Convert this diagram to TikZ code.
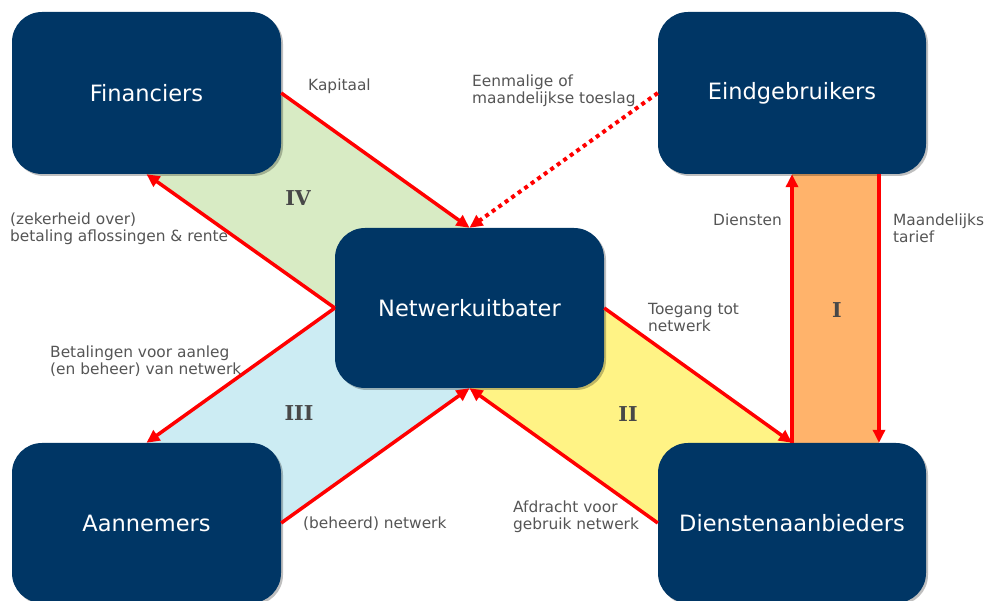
\documentclass[tikz,border=0pt]{standalone}
\usepackage{fontspec}
\setmainfont{DejaVu Sans}
\newfontfamily\numfont{DejaVu Serif}
\usetikzlibrary{arrows.meta,shadows,backgrounds,calc}
\definecolor{boxblue}{RGB}{0,54,101}
\definecolor{labgray}{RGB}{85,85,85}
\definecolor{numgray}{RGB}{72,72,72}
\definecolor{fgreen}{RGB}{216,235,196}
\definecolor{fblue}{RGB}{204,236,243}
\definecolor{fyellow}{RGB}{255,243,133}
\definecolor{forange}{RGB}{255,179,107}
\newcommand{\labtxt}[1]{\begin{tabular}[t]{@{}l@{}}#1\end{tabular}}
\tikzset{
  actor/.style={fill=boxblue, rounded corners=30pt, text=white,
    font=\fontsize{22.5}{27}\selectfont, inner sep=0pt,
    drop shadow={shadow xshift=2pt, shadow yshift=-2pt, fill=black, opacity=0.25}},
  flowlabel/.style={anchor=base west, inner sep=0pt, text=labgray,
    font=\fontsize{15.4}{16.5}\selectfont},
  numeral/.style={inner sep=0pt, text=numgray, font=\numfont\bfseries\fontsize{20.5}{24}\selectfont},
  flow/.style={draw=red, line width=3.5pt, -{Triangle[length=13pt,width=12pt]}},
  dotflow/.style={draw=red, line width=4pt, dash pattern=on 4pt off 4pt,
    -{Triangle[length=13pt,width=12pt]}}
}
\begin{document}
\begin{tikzpicture}[x=1pt,y=-1pt]
\useasboundingbox (0,0) rectangle (989,601);
\clip (0,0) rectangle (989,601);
% actors
\node[actor, minimum width=269pt, minimum height=162pt] (fin) at (146.5,93) {Financiers};
\node[actor, minimum width=268pt, minimum height=162pt] (eind) at (792,93) {Eindgebruikers};
\node[actor, minimum width=269pt, minimum height=160pt] (net) at (469.5,308) {Netwerkuitbater};
\node[actor, minimum width=269pt, minimum height=160pt] (aan) at (146.5,523) {Aannemers};
\node[actor, minimum width=268pt, minimum height=160pt] (dien) at (792,523) {Dienstenaanbieders};
\coordinate (mtop) at ($(eind.south)+(87,0)$);
\coordinate (mbot) at ($(dien.north)+(87,0)$);
% coloured areas
\begin{scope}[on background layer]
  \fill[fgreen] (fin.east) -- (net.north) -- (net.west) -- (fin.south) -- cycle;
  \fill[fblue] (net.west) -- (net.south) -- (aan.east) -- (aan.north) -- cycle;
  \fill[fyellow] (net.east) -- (dien.north) -- (dien.west) -- (net.south) -- cycle;
  \fill[forange] (eind.south) rectangle (mbot);
\end{scope}
% numerals
\node[numeral] (nIV) at (298,198) {IV};
\node[numeral] (nIII) at (299,413) {III};
\node[numeral] (nII) at (628,414) {II};
\node[numeral] (nI) at (837,310) {I};
% flows
\draw[flow] (fin.east) -- (net.north);
\draw[dotflow] (eind.west) -- (net.north);
\draw[flow] (net.west) -- (fin.south);
\draw[flow] (net.west) -- (aan.north);
\draw[flow] (aan.east) -- (net.south);
\draw[flow] (dien.west) -- (net.south);
\draw[flow] (net.east) -- (dien.north);
\draw[flow] (dien.north) -- (eind.south);
\draw[flow] (mtop) -- (mbot);
% labels
\node[flowlabel] (lkap) at (308,91) {\labtxt{Kapitaal}};
\node[flowlabel] (leen) at (472,87) {\labtxt{Eenmalige of\\maandelijkse toeslag}};
\node[flowlabel] (lzek) at (10,225) {\labtxt{(zekerheid over)\\betaling aflossingen \& rente}};
\node[flowlabel] (lbet) at (50,358) {\labtxt{Betalingen voor aanleg\\(en beheer) van netwerk}};
\node[flowlabel] (ldie) at (713,226) {\labtxt{Diensten}};
\node[flowlabel] (lmaa) at (893,226) {\labtxt{Maandelijks\\tarief}};
\node[flowlabel] (ltoe) at (648,315) {\labtxt{Toegang tot\\netwerk}};
\node[flowlabel] (lbeh) at (303,529) {\labtxt{(beheerd) netwerk}};
\node[flowlabel] (lafd) at (513,513) {\labtxt{Afdracht voor\\gebruik netwerk}};
\end{tikzpicture}
\end{document}
